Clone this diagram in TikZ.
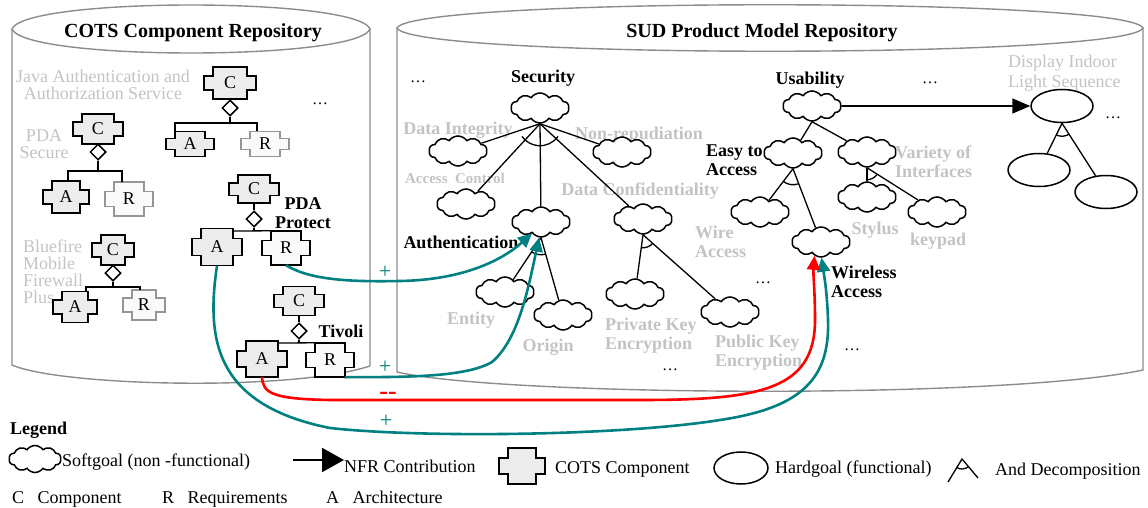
\documentclass[tikz,border=0pt]{standalone}
\usepackage{fontspec}
\setmainfont{Liberation Serif}
\usetikzlibrary{shapes.geometric,shapes.symbols,arrows.meta}

\definecolor{lgray}{RGB}{195,195,195}
\definecolor{cylgray}{RGB}{140,140,140}
\definecolor{boxfill}{RGB}{236,236,236}
\definecolor{rboxfill}{RGB}{250,250,250}
\definecolor{rgray}{RGB}{150,150,150}
\definecolor{tealc}{RGB}{0,128,128}

% name, x, y, half width, half height, label, style
\newcommand\cotsbox[7]{%
  \draw[cotsline,#7] (#2,#3) ++({-(#4-9)},{-#5}) -- ++({2*#4-18},0) -- ++(0,{0.55*#5}) -- ++(9,0)
    -- ++(0,{0.9*#5}) -- ++(-9,0) -- ++(0,{0.55*#5}) -- ++({-(2*#4-18)},0) -- ++(0,{-0.55*#5})
    -- ++(-9,0) -- ++(0,{-0.9*#5}) -- ++(9,0) -- cycle;
  \node[cotslbl,minimum width={2*#4-18},minimum height={2*#5}] (#1) at (#2,#3) {#6};}

\begin{document}
\begin{tikzpicture}[x=1pt,y=-1pt,
  cyl/.style={draw=cylgray,line width=1.4pt},
  soft/.style={cloud,cloud puffs=10,cloud puff arc=110,aspect=2,draw,fill=white,line width=1.5pt,
    minimum width=58pt,minimum height=30pt,inner sep=0pt},
  hard/.style={ellipse,draw,fill=white,line width=1.5pt,minimum width=62pt,minimum height=33pt,inner sep=0pt},
  tree/.style={line width=1.3pt},
  dia/.style={diamond,draw,fill=white,line width=1.5pt,minimum width=16pt,minimum height=16pt,inner sep=0pt},
  cotsline/.style={line width=1.6pt,line join=miter},
  cotslbl/.style={inner sep=0pt,font=\fontsize{18}{20}\selectfont},
  cfill/.style={draw=black,fill=boxfill},
  rfill/.style={draw=black,fill=rboxfill},
  rgfill/.style={draw=rgray,fill=rboxfill},
  lbl/.style={inner sep=0pt,font=\fontsize{18}{19}\selectfont\bfseries},
  glbl/.style={lbl,text=lgray},
  gtxt/.style={inner sep=0pt,text=lgray,font=\fontsize{18}{17}\selectfont},
  dotlbl/.style={inner sep=0pt,font=\fontsize{16}{18}\selectfont},
  posarr/.style={draw=tealc,line width=2.6pt,-{Triangle[length=14pt,width=13pt]}},
  negarr/.style={draw=red,line width=2.6pt,-{Triangle[length=14pt,width=13pt]}},
  nfr/.style={line width=1.8pt,-{Triangle[length=18pt,width=15pt]}},
  ttl/.style={inner sep=0pt,font=\fontsize{20}{22}\selectfont\bfseries},
  leg/.style={inner sep=0pt,font=\fontsize{18}{20}\selectfont,anchor=west},
]
\useasboundingbox (0,0) rectangle (1148,508);

% ---------------- cylinders
\draw[cyl] (12,29) -- (12,365) .. controls (60,386) and (290,392) .. (370,366) -- (370,29);
\draw[cyl,fill=white] (12,29) .. controls (25,-3) and (357,-3) .. (370,29) .. controls (357,61) and (25,61) .. cycle;
\draw[cyl] (397,28) -- (397,372) .. controls (500,396) and (1000,400) .. (1143,370) -- (1143,28);
\draw[cyl,fill=white] (397,28) .. controls (412,-3) and (1128,-3) .. (1143,28) .. controls (1128,59) and (412,59) .. cycle;
\node[ttl] (cotsrepo) at (193,33) {COTS Component Repository};
\node[ttl] (sudrepo) at (762,33) {SUD Product Model Repository};

% ---------------- left labels
\node[gtxt,align=center] (jaas) at (103,85) {Java Authentication and\\Authorization Service};
\node[gtxt,align=center] (pdasec) at (44,144) {PDA\\Secure};
\node[gtxt,align=left,anchor=west] (bluefire) at (23,272) {Bluefire\\Mobile\\Firewall\\Plus};
\node[dotlbl] (ldots) at (320,104) {\dots};
\node[lbl,align=center] (pdaprot) at (303,213) {PDA\\Protect};
\node[lbl] (tivoli) at (341,331) {Tivoli};

% ---------------- COTS components
% JAAS
\cotsbox{jC}{230}{83}{26}{16}{C}{cfill}
\cotsbox{jA}{190}{144}{24}{12.5}{A}{cfill}
\cotsbox{jR}{265}{144}{24}{12.5}{R}{rgfill}
\node[dia] (jd) at (230,108) {};
\coordinate (jl) at (175,123); \coordinate (jr) at (257,123);
\draw[tree] (jC.south) -- (jd.north);
\draw[tree] (jd.south) -- (jd.south |- jl);
\draw[tree] (jA.north -| jl) -- (jl) -- (jr) -- (jR.north -| jr);
% PDA Secure
\cotsbox{sC}{98}{129}{25}{15}{C}{cfill}
\cotsbox{sA}{66}{197}{23}{16}{A}{cfill}
\cotsbox{sR}{129}{199}{24}{17}{R}{rgfill}
\node[dia] (sd) at (98,152) {};
\coordinate (sl) at (68,171); \coordinate (sr) at (122,171);
\draw[tree] (sC.south) -- (sd.north);
\draw[tree] (sd.south) -- (sd.south |- sl);
\draw[tree] (sA.north -| sl) -- (sl) -- (sr) -- (sR.north -| sr);
% Bluefire
\cotsbox{bC}{113}{250}{21}{15}{C}{cfill}
\cotsbox{bA}{75}{307}{22}{15.5}{A}{cfill}
\cotsbox{bR}{144}{305}{21}{15}{R}{rgfill}
\node[dia] (bd) at (113,273) {};
\coordinate (bl) at (86,287); \coordinate (br) at (140,287);
\draw[tree] (bC.south) -- (bd.north);
\draw[tree] (bd.south) -- (bd.south |- bl);
\draw[tree] (bA.north -| bl) -- (bl) -- (br) -- (bR.north -| br);
% PDA Protect
\cotsbox{pC}{254}{189}{25}{14}{C}{cfill}
\cotsbox{pA}{217}{247}{25}{18.5}{A}{cfill}
\cotsbox{pR}{286}{248}{24}{17}{R}{rfill}
\node[dia] (pd) at (254,219) {};
\coordinate (pl) at (254,231);
\draw[tree] (pC.south) -- (pd.north);
\draw[tree] (pd.south) -- (pl);
\draw[tree] (pA.east |- pl) -- (pR.north west);
% Tivoli
\cotsbox{tC}{299}{301}{25}{14.5}{C}{cfill}
\cotsbox{tA}{262}{359}{25}{18}{A}{cfill}
\cotsbox{tR}{330}{360}{24}{17}{R}{rfill}
\node[dia] (td) at (299,331) {};
\coordinate (tl) at (299,343);
\draw[tree] (tC.south) -- (td.north);
\draw[tree] (td.south) -- (tl);
\draw[tree] (tA.east |- tl) -- (tR.north west);

% ---------------- right labels
\node[dotlbl] (rdots1) at (418,82) {\dots};
\node[lbl] (seclbl) at (543,78) {Security};
\node[glbl] (dintlbl) at (458,130) {Data Integrity};
\node[glbl] (nonreplbl) at (639,135) {Non-repudiation};
\node[glbl,font=\fontsize{15}{17}\selectfont\bfseries] (acclbl) at (455,178) {Access\ \ Control};
\node[glbl] (dconflbl) at (640,191) {Data Confidentiality};
\node[lbl] (authlbl) at (461,242) {Authentication};
\node[glbl] (entlbl) at (471,320) {Entity};
\node[glbl] (orglbl) at (548,347) {Origin};
\node[glbl,align=left,anchor=west] (privlbl) at (605,336) {Private Key\\Encryption};
\node[glbl,align=left,anchor=west] (publbl) at (715,353) {Public Key\\Encryption};
\node[dotlbl] (rdots2) at (670,370) {\dots};
\node[glbl,align=left,anchor=west] (wirelbl) at (695,242) {Wire\\Access};
\node[dotlbl] (rdots3) at (763,283) {\dots};
\node[lbl,align=left,anchor=west] (easylbl) at (706,160) {Easy to\\Access};
\node[lbl] (uselbl) at (810,80) {Usability};
\node[dotlbl] (rdots4) at (930,83) {\dots};
\node[gtxt,align=left,anchor=west,font=\fontsize{18}{20}\selectfont] (displbl) at (1008,73) {Display Indoor\\Light Sequence};
\node[dotlbl] (rdots5) at (1113,118) {\dots};
\node[glbl,align=left,anchor=west] (varlbl) at (895,162) {Variety of\\Interfaces};
\node[glbl] (stylbl) at (875,230) {Stylus};
\node[glbl] (keylbl) at (938,241) {keypad};
\node[lbl,align=left,anchor=west] (wacclbl) at (831,282) {Wireless\\Access};
\node[dotlbl] (rdots6) at (852,350) {\dots};

% ---------------- softgoals
\node[soft] (sec) at (540,108) {};
\node[soft] (dint) at (458,151) {};
\node[soft] (nonrep) at (622,152) {};
\node[soft] (acc) at (466,204) {};
\node[soft] (auth) at (541,222) {};
\node[soft] (dconf) at (643,219) {};
\node[soft] (ent) at (505,292) {};
\node[soft] (org) at (563,315) {};
\node[soft] (priv) at (635,294) {};
\node[soft] (pub) at (730,312) {};
\node[soft] (use) at (812,106) {};
\node[soft] (easy) at (793,153) {};
\node[soft] (var) at (867,152) {};
\node[soft] (wire) at (760,212) {};
\node[soft] (wacc) at (821,242) {};
\node[soft] (sty) at (867,197) {};
\node[soft] (key) at (937,212) {};
% hardgoals
\node[hard] (disp) at (1062,106) {};
\node[hard] (dispa) at (1039,170) {};
\node[hard] (dispb) at (1106,192) {};

% ---------------- decompositions
\draw[tree] (sec.south) -- (dint);
\draw[tree] (sec.south) -- (acc);
\draw[tree] (sec.south) -- (auth);
\draw[tree] (sec.south) -- (dconf);
\draw[tree] (sec.south) -- (nonrep);
\draw[tree] (sec.south) ++(35:22) arc[start angle=35,end angle=145,radius=22];
\draw[tree] (auth.south) -- (ent);
\draw[tree] (auth.south) -- (org);
\draw[tree] (auth.south) ++(74:17) arc[start angle=74,end angle=123,radius=17];
\draw[tree] (dconf.south) -- (priv);
\draw[tree] (dconf.south) -- (pub);
\draw[tree] (dconf.south) ++(41:13) arc[start angle=41,end angle=98,radius=13];
\draw[tree] (use.south) -- (easy);
\draw[tree] (use.south) -- (var);
\draw[tree] (easy.south) -- (wire);
\draw[tree] (easy.south) -- (wacc);
\draw[tree] (easy.south) ++(69:16) arc[start angle=69,end angle=127,radius=16];
\draw[tree] (var.south) -- (sty);
\draw[tree] (var.south) -- (key);
\draw[tree] (var.south) ++(32:12) arc[start angle=32,end angle=90,radius=12];
\draw[tree] (disp.south) -- (dispa);
\draw[tree] (disp.south) -- (dispb);
\draw[tree] (disp.south) ++(57:13) arc[start angle=57,end angle=117,radius=13];
\draw[nfr] (use.east) -- (disp.west);

% ---------------- contributions
\draw[posarr] (pR.south) .. controls (310,280) and (350,282) .. (400,281) .. controls (460,280) and (500,262) .. (auth.232);
\draw[posarr] (tR.south east) .. controls (400,377) and (465,378) .. (492,362) .. controls (518,340) and (528,290) .. (auth.263);
\draw[posarr] (pA.south) .. controls (206,340) and (215,405) .. (330,428) .. controls (420,438) and (620,436) .. (720,420) .. controls (800,408) and (830,380) .. (828,320) .. controls (827,290) and (824,275) .. (wacc.272);
\draw[negarr] (tA.south) .. controls (263,393) and (272,399) .. (330,400) -- (640,400) .. controls (760,400) and (815,390) .. (815,320) .. controls (815,290) and (813,275) .. (wacc.245);
\node[text=tealc,inner sep=0pt,font=\fontsize{22}{22}\selectfont] (plus1) at (385,272) {+};
\node[text=tealc,inner sep=0pt,font=\fontsize{22}{22}\selectfont] (plus2) at (385,367) {+};
\node[text=tealc,inner sep=0pt,font=\fontsize{22}{22}\selectfont] (plus3) at (386,421) {+};
\node[text=red,inner sep=0pt,font=\fontsize{26}{26}\selectfont\bfseries] (minus1) at (388,396) {-{}-};

% ---------------- legend
\node[lbl,anchor=west] (legtitle) at (10,430) {Legend};
\node[soft,minimum width=52pt,minimum height=27pt] (legsoft) at (35,459) {};
\node[leg] (legsofttxt) at (62,462) {Softgoal (non -functional)};
\coordinate (nfra) at (293,460); \coordinate (nfrb) at (344,460);
\draw[line width=2pt,-{Triangle[length=22pt,width=24pt]}] (nfra) -- (nfrb);
\node[leg] (legnfr) at (344,466) {NFR Contribution};
\cotsbox{legC}{522}{466}{23}{18}{}{cfill}
\node[leg] (legcots) at (555,469) {COTS Component};
\node[hard,minimum width=54pt,minimum height=32pt] (leghard) at (741,468) {};
\node[leg] (leghardtxt) at (775,469) {Hardgoal (functional)};
\coordinate (anda) at (962,459); \coordinate (andl) at (948,482); \coordinate (andr) at (978,478);
\draw[tree] (andl) -- (anda) -- (andr);
\draw[tree] (anda) ++(50:10) arc[start angle=50,end angle=125,radius=10];
\node[leg] (legand) at (995,471) {And Decomposition};
\node[leg,anchor=base west] (legc) at (12,503) {C\ \ \ Component};
\node[leg,anchor=base west] (legr) at (162,503) {R\ \ \ Requirements};
\node[leg,anchor=base west] (lega) at (326,503) {A\ \ \ Architecture};
\end{tikzpicture}
\end{document}
